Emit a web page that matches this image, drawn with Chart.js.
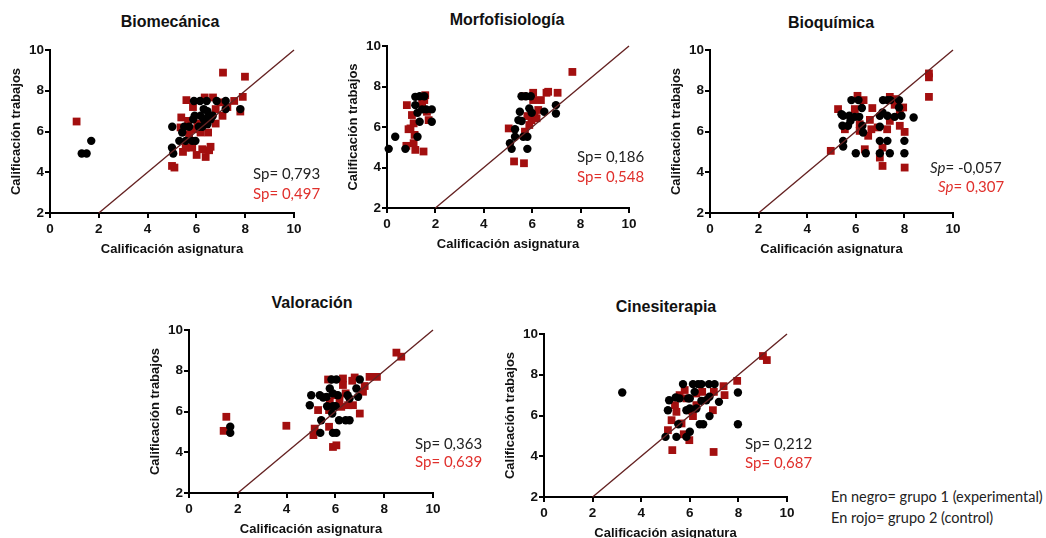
<!DOCTYPE html>
<html>
<head>
<meta charset="utf-8">
<script src="https://cdn.jsdelivr.net/npm/chart.js@4/dist/chart.umd.min.js"></script>
<style>
  html, body { margin: 0; padding: 0; background: #fff; }
  body { width: 1046px; height: 538px; position: relative; overflow: hidden; }
  canvas { position: absolute; }
  .title { position: absolute; font-family: "Liberation Sans", Arial, sans-serif; font-weight: bold; font-size: 16px; color: #111; transform: translate(-50%, -50%); white-space: nowrap; }
  .sp { position: absolute; font-family: Lato, "Open Sans", sans-serif; font-size: 15px; white-space: nowrap; transform: translateY(-50%); }
  .blk { color: #222; }
  .red { color: #e0302c; }
  .legend { position: absolute; font-family: Lato, "Open Sans", sans-serif; font-size: 14.5px; color: #222; white-space: nowrap; transform: translateY(-50%); }
</style>
</head>
<body>
<script>
// ---------- DATA ----------
const xTicks = [0, 2, 4, 6, 8, 10];
const yTicks = [2, 4, 6, 8, 10];
const identityLine = [[2, 2], [10, 10]];

// Biomecánica
const bioGrupo1 = [[1.30,4.92],[1.50,4.92],[1.69,5.54],[5.01,6.23],[5.00,5.20],[5.05,4.92],[5.42,5.95],[5.30,5.54],[5.56,5.54],[5.50,6.23],[5.70,6.23],[5.87,6.60],[5.93,6.77],[5.90,7.50],[6.15,7.50],[6.42,7.50],[6.83,7.50],[7.20,7.50],[7.20,7.10],[7.80,7.10],[6.30,7.10],[6.17,6.77],[6.50,6.77],[6.67,6.77],[6.58,6.60],[6.30,6.60],[6.10,6.23],[6.45,6.36],[5.96,5.54],[5.83,5.54],[6.24,6.23],[6.45,7.00]];
const bioGrupo2 = [[1.09,6.49],[7.09,8.89],[7.99,8.69],[7.90,7.70],[7.80,6.98],[5.59,7.54],[6.34,7.67],[6.68,7.67],[7.00,7.43],[7.27,7.20],[6.79,7.10],[5.86,7.20],[5.38,6.69],[5.66,6.52],[5.35,6.20],[5.90,6.11],[5.70,5.87],[6.17,5.95],[6.48,5.95],[6.79,6.39],[6.04,6.39],[6.45,6.56],[5.45,5.00],[5.56,5.20],[5.87,5.54],[6.01,4.85],[6.38,4.75],[6.52,5.08],[6.58,5.25],[5.00,4.31],[5.10,4.23],[5.83,5.21],[6.24,5.13],[7.07,6.77],[7.55,7.50]];

// Morfofisiología
const morGrupo1 = [[0.07,4.92],[0.34,5.52],[0.76,4.92],[1.17,7.49],[1.35,7.52],[1.54,7.52],[1.17,7.08],[1.26,6.70],[1.35,6.26],[1.45,6.87],[1.62,6.87],[1.85,6.87],[1.85,6.26],[1.26,5.52],[5.29,5.89],[5.43,6.34],[5.49,6.75],[5.56,6.30],[5.29,5.52],[5.08,5.20],[5.15,4.92],[5.63,5.52],[5.80,5.52],[5.80,4.92],[5.56,7.52],[5.74,7.52],[5.88,6.92],[5.98,6.70],[6.50,6.75],[6.98,7.08],[6.98,6.67],[5.94,7.52]];
const morGrupo2 = [[0.82,7.08],[0.89,5.89],[1.03,6.59],[1.10,6.18],[0.97,5.93],[1.14,5.61],[1.10,5.20],[1.17,4.87],[0.80,5.07],[1.51,4.79],[1.58,7.57],[1.45,7.16],[1.65,6.75],[1.72,6.34],[1.54,7.33],[5.03,5.93],[5.25,4.30],[5.66,4.21],[5.63,7.52],[5.70,5.77],[5.88,6.10],[6.04,7.69],[6.04,7.33],[6.10,6.59],[6.25,6.84],[6.36,7.33],[6.59,7.69],[6.66,7.74],[7.05,7.69],[7.66,8.72],[5.97,6.34],[6.18,6.43],[5.80,6.54]];

// Bioquímica
const bqGrupo1 = [[5.41,6.85],[5.48,6.77],[5.73,6.77],[5.82,7.54],[6.11,7.54],[5.96,6.72],[6.14,6.72],[5.45,6.28],[5.68,6.28],[5.78,6.52],[6.25,7.15],[6.27,6.28],[6.30,5.95],[5.48,5.54],[5.48,5.26],[6.00,4.93],[6.41,4.93],[6.99,6.77],[6.99,6.23],[7.10,6.93],[7.12,7.54],[7.30,7.54],[7.42,7.54],[7.30,6.77],[6.99,5.54],[7.30,5.54],[6.99,4.93],[7.40,4.93],[7.78,7.54],[7.78,7.18],[7.60,6.72],[7.88,6.77],[8.00,5.54],[8.00,4.93],[8.38,6.69]];
const bqGrupo2 = [[4.97,5.05],[5.27,7.10],[5.55,6.11],[6.07,7.75],[6.32,7.54],[5.96,7.10],[6.16,6.36],[6.16,6.03],[6.37,5.13],[6.51,5.79],[6.64,6.11],[6.68,7.15],[6.58,6.57],[6.90,6.20],[6.99,4.72],[7.10,5.21],[7.10,4.31],[7.29,6.11],[7.40,7.70],[7.60,7.59],[7.60,7.31],[7.81,6.28],[7.95,7.18],[8.01,5.98],[8.01,4.23],[9.01,8.85],[9.01,8.66],[9.01,7.70],[7.40,6.52],[7.81,6.85]];

// Valoración
const valGrupo1 = [[1.69,5.25],[1.69,4.95],[5.01,6.80],[4.95,6.31],[5.36,6.80],[5.64,6.72],[5.50,6.69],[5.77,7.13],[5.84,7.57],[6.04,7.57],[5.90,6.89],[5.66,6.26],[5.90,6.26],[6.01,6.26],[5.42,5.57],[5.38,4.95],[5.87,5.90],[5.90,4.95],[6.04,4.95],[6.15,5.57],[6.42,5.57],[6.58,5.57],[6.10,6.80],[6.50,6.80],[6.58,6.64],[6.86,7.13],[7.00,7.57],[6.93,6.72]];
const valGrupo2 = [[1.42,5.05],[1.53,5.74],[3.99,5.30],[5.10,4.84],[5.15,5.16],[5.29,6.07],[5.70,7.57],[5.74,5.25],[5.74,6.07],[5.90,4.26],[6.04,4.34],[5.77,6.48],[5.97,6.80],[6.31,7.62],[6.31,7.30],[6.17,6.56],[6.24,6.23],[6.42,6.89],[6.52,6.31],[6.72,6.31],[6.79,7.67],[7.00,5.90],[7.13,6.97],[7.20,7.25],[7.40,7.70],[7.70,7.70],[8.50,8.89],[8.70,8.69],[6.69,7.51]];

// Cinesiterapia
const cinGrupo1 = [[3.22,7.13],[5.00,4.95],[5.10,6.26],[5.15,6.75],[5.42,6.89],[5.58,6.84],[5.45,4.95],[5.53,5.57],[5.72,7.54],[5.93,6.84],[6.00,6.34],[5.86,6.26],[5.86,4.95],[6.00,5.20],[6.13,7.54],[6.34,7.54],[6.20,7.16],[6.27,6.34],[6.41,5.57],[6.55,5.57],[6.48,6.72],[6.68,6.75],[6.81,6.92],[6.81,5.97],[6.79,7.54],[7.02,7.54],[7.20,6.67],[7.98,7.13],[7.98,5.57],[6.00,6.84],[6.48,7.54]];
const cinGrupo2 = [[5.28,4.30],[5.10,5.28],[5.25,5.77],[5.39,6.51],[5.45,6.18],[5.66,5.61],[5.75,5.08],[5.98,4.79],[5.79,7.25],[5.86,6.84],[6.13,5.97],[6.27,7.08],[6.51,7.16],[6.27,6.51],[6.95,6.26],[6.99,7.16],[7.39,7.44],[7.43,7.00],[7.95,7.70],[6.98,4.21],[9.01,8.92],[9.17,8.72],[5.58,7.00],[6.10,6.23]];

const titles = ["Biomecánica", "Morfofisiología", "Bioquímica", "Valoración", "Cinesiterapia"];
const spGrupo1 = ["0,793", "0,186", "-0,057", "0,363", "0,212"];
const spGrupo2 = ["0,497", "0,548", "0,307", "0,639", "0,687"];
const xAxisTitle = "Calificación asignatura";
const yAxisTitle = "Calificación trabajos";
const legendLines = ["En negro= grupo 1 (experimental)", "En rojo= grupo 2 (control)"];

// ---------- LAYOUT ----------
const panels = [
  { g1: bioGrupo1, g2: bioGrupo2, plot: [49.5, 49.5, 293, 212], title: [170, 22], sp: [253, 173, 193], italic: false },
  { g1: morGrupo1, g2: morGrupo2, plot: [386.7, 45.7, 629, 208], title: [507, 20], sp: [577, 156, 176], italic: false },
  { g1: bqGrupo1, g2: bqGrupo2, plot: [710, 49.5, 953, 212], title: [831, 23], sp: [930, 167, 186], italic: true, sp2x: 938 },
  { g1: valGrupo1, g2: valGrupo2, plot: [189.3, 330, 433, 492.7], title: [312, 303], sp: [415, 443, 461], italic: false },
  { g1: cinGrupo1, g2: cinGrupo2, plot: [544.3, 334, 787, 496.7], title: [666, 307], sp: [745, 443, 462], italic: false }
];

const L = 50, T = 12, R = 14, B = 46;
const tickFont = { family: "'Liberation Sans', Arial, sans-serif", size: 13.5, weight: 'bold' };
const axisTitleFont = { family: "'Liberation Sans', Arial, sans-serif", size: 13, weight: 'bold', lineHeight: 1.2 };
const toPts = arr => arr.map(p => ({ x: p[0], y: p[1] }));

panels.forEach((p, i) => {
  const [pl, pt, pr, pb] = p.plot;
  const cw = Math.round(pr - pl + L + R), ch = Math.round(pb - pt + T + B);
  const cv = document.createElement('canvas');
  cv.width = cw; cv.height = ch;
  cv.style.left = (pl - L) + 'px';
  cv.style.top = (pt - T) + 'px';
  cv.style.width = cw + 'px'; cv.style.height = ch + 'px';
  document.body.appendChild(cv);

  new Chart(cv.getContext('2d'), {
    type: 'scatter',
    data: {
      datasets: [
        { type: 'line', data: toPts(identityLine), borderColor: '#652222', borderWidth: 1.4, pointRadius: 0, fill: false, order: 0, clip: false },
        { data: toPts(p.g1), backgroundColor: '#000', borderColor: '#000', pointStyle: 'circle', pointRadius: 4.2, borderWidth: 0, order: 1, clip: false },
        { data: toPts(p.g2), backgroundColor: '#a30f0f', borderColor: '#a30f0f', pointStyle: 'rect', pointRadius: 5.5, borderWidth: 0, order: 2, clip: false }
      ]
    },
    options: {
      responsive: false,
      animation: false,
      devicePixelRatio: 1,
      layout: { padding: { left: 0, top: T, right: R, bottom: 0 } },
      plugins: { legend: { display: false }, tooltip: { enabled: false }, title: { display: false } },
      scales: {
        x: {
          type: 'linear', min: 0, max: 10,
          afterBuildTicks: s => { s.ticks = xTicks.map(v => ({ value: v })); },
          afterFit: s => { s.height = B; },
          ticks: { font: tickFont, color: '#111', padding: 3, maxRotation: 0 },
          grid: { display: true, drawOnChartArea: false, drawTicks: true, tickLength: 5, color: '#000', lineWidth: 2 },
          border: { display: true, color: '#000', width: 2 },
          title: { display: true, text: xAxisTitle, font: axisTitleFont, color: '#111', padding: { top: 0, bottom: 2 } }
        },
        y: {
          type: 'linear', min: 2, max: 10,
          afterBuildTicks: s => { s.ticks = yTicks.map(v => ({ value: v })); },
          afterFit: s => { s.width = L; },
          ticks: { font: tickFont, color: '#111', padding: 1 },
          grid: { display: true, drawOnChartArea: false, drawTicks: true, tickLength: 5, color: '#000', lineWidth: 2 },
          border: { display: true, color: '#000', width: 2 },
          title: { display: true, text: yAxisTitle, font: axisTitleFont, color: '#111', padding: { top: 9, bottom: 0 } }
        }
      }
    }
  });

  const t = document.createElement('div');
  t.className = 'title'; t.textContent = titles[i];
  t.style.left = p.title[0] + 'px'; t.style.top = p.title[1] + 'px';
  document.body.appendChild(t);

  const spLabel = p.italic ? '<i>Sp</i>= ' : 'Sp= ';
  const s1 = document.createElement('div');
  s1.className = 'sp blk'; s1.innerHTML = spLabel + spGrupo1[i];
  s1.style.left = p.sp[0] + 'px'; s1.style.top = p.sp[1] + 'px';
  document.body.appendChild(s1);
  const s2 = document.createElement('div');
  s2.className = 'sp red'; s2.innerHTML = spLabel + spGrupo2[i];
  s2.style.left = (p.sp2x || p.sp[0]) + 'px'; s2.style.top = p.sp[2] + 'px';
  document.body.appendChild(s2);
});

legendLines.forEach((txt, k) => {
  const d = document.createElement('div');
  d.className = 'legend'; d.textContent = txt;
  d.style.left = '831px'; d.style.top = (496 + 21 * k) + 'px';
  document.body.appendChild(d);
});
</script>
</body>
</html>
